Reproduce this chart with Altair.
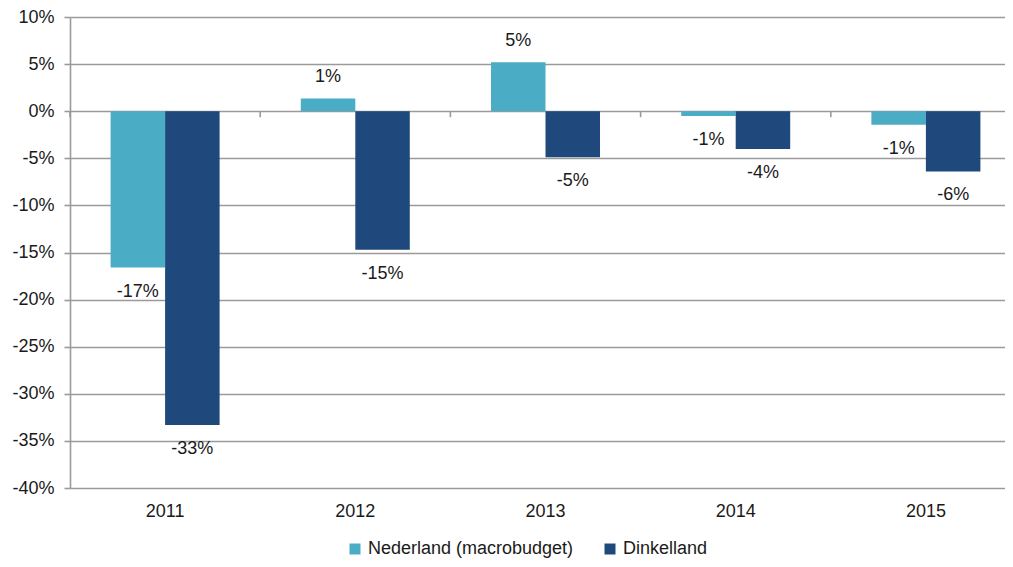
import altair as alt
import pandas as pd

years = ["2011", "2012", "2013", "2014", "2015"]
series = ["Nederland (macrobudget)", "Dinkelland"]
nederland = [-0.166, 0.0135, 0.052, -0.005, -0.0145]
dinkelland = [-0.333, -0.147, -0.049, -0.040, -0.064]
ned_labels = ["-17%", "1%", "5%", "-1%", "-1%"]
dink_labels = ["-33%", "-15%", "-5%", "-4%", "-6%"]
colors = ["#4BACC6", "#1F497D"]
y_ticks = [-0.40, -0.35, -0.30, -0.25, -0.20, -0.15, -0.10, -0.05, 0.0, 0.05, 0.10]

rows = []
for i, yr in enumerate(years):
    rows.append({"year": yr, "series": series[0], "value": nederland[i], "label": ned_labels[i]})
    rows.append({"year": yr, "series": series[1], "value": dinkelland[i], "label": dink_labels[i]})
df = pd.DataFrame(rows)
years_df = pd.DataFrame({"year": years})

FONT = "Liberation Sans"
GRAY = "#9a9a9a"
TXT = "#1a1a1a"
FS = 18

x_scale = alt.Scale(domain=years, range=[0, 951], paddingInner=0, paddingOuter=0)
x_axis = alt.Axis(title=None, labelAngle=0, ticks=False, domain=False, grid=False,
                  labelFontSize=FS, labelFont=FONT, labelColor=TXT,
                  labelPadding=23, labelBaseline="middle")
x_enc = alt.X("year:N", scale=x_scale, axis=x_axis)
xoff = alt.XOffset("series:N", scale=alt.Scale(domain=series, paddingInner=0, paddingOuter=0.745))
y_scale = alt.Scale(domain=[-0.40, 0.10], nice=False)
y_axis = alt.Axis(title=None, values=y_ticks, labelExpr="round(datum.value*100) + '%'",
                  grid=True, gridColor=GRAY, gridWidth=1.6, gridOpacity=1,
                  domain=True, domainColor=GRAY, domainWidth=1.6,
                  ticks=True, tickColor=GRAY, tickSize=6, tickWidth=1.6,
                  labelPadding=10, labelFontSize=FS, labelFont=FONT, labelColor=TXT)
y_enc = alt.Y("value:Q", scale=y_scale, axis=y_axis)

base = alt.Chart(df)

bars = base.mark_bar().encode(
    x=x_enc,
    xOffset=xoff,
    y=y_enc,
    y2=alt.datum(0),
    color=alt.Color("series:N", scale=alt.Scale(domain=series, range=colors),
                    legend=alt.Legend(title=None, orient="none", legendX=276, legendY=523,
                                      direction="horizontal", symbolType="square",
                                      symbolSize=121, symbolStrokeWidth=0,
                                      labelFontSize=FS, labelFont=FONT, labelColor=TXT,
                                      labelLimit=0, columnPadding=27, labelOffset=4,
                                      padding=0)),
)

neg_text = base.transform_filter("datum.value < 0").mark_text(
    dy=24, baseline="middle", align="center", fontSize=FS, font=FONT, color=TXT
).encode(x=x_enc, xOffset=xoff, y=y_enc, text="label:N")

pos_text = base.transform_filter("datum.value >= 0").mark_text(
    dy=-21, baseline="middle", align="center", fontSize=FS, font=FONT, color=TXT
).encode(x=x_enc, xOffset=xoff, y=y_enc, text="label:N")

zero_ticks = alt.Chart(years_df).mark_rule(color=GRAY, strokeWidth=1.6, y2Offset=6).encode(
    x=alt.X("year:N", scale=x_scale, axis=x_axis, bandPosition=0),
    y=alt.datum(0),
    y2=alt.datum(0),
)

chart = alt.layer(bars, zero_ticks, neg_text, pos_text).properties(
    width=935, height=471,
    autosize=alt.AutoSizeParams(type="none"),
    padding={"left": 62, "top": 9, "right": 0, "bottom": 71},
).configure(background="white").configure_view(stroke="transparent", strokeWidth=0)

chart.save("out.html", embed_options={"renderer": "svg", "actions": False})
